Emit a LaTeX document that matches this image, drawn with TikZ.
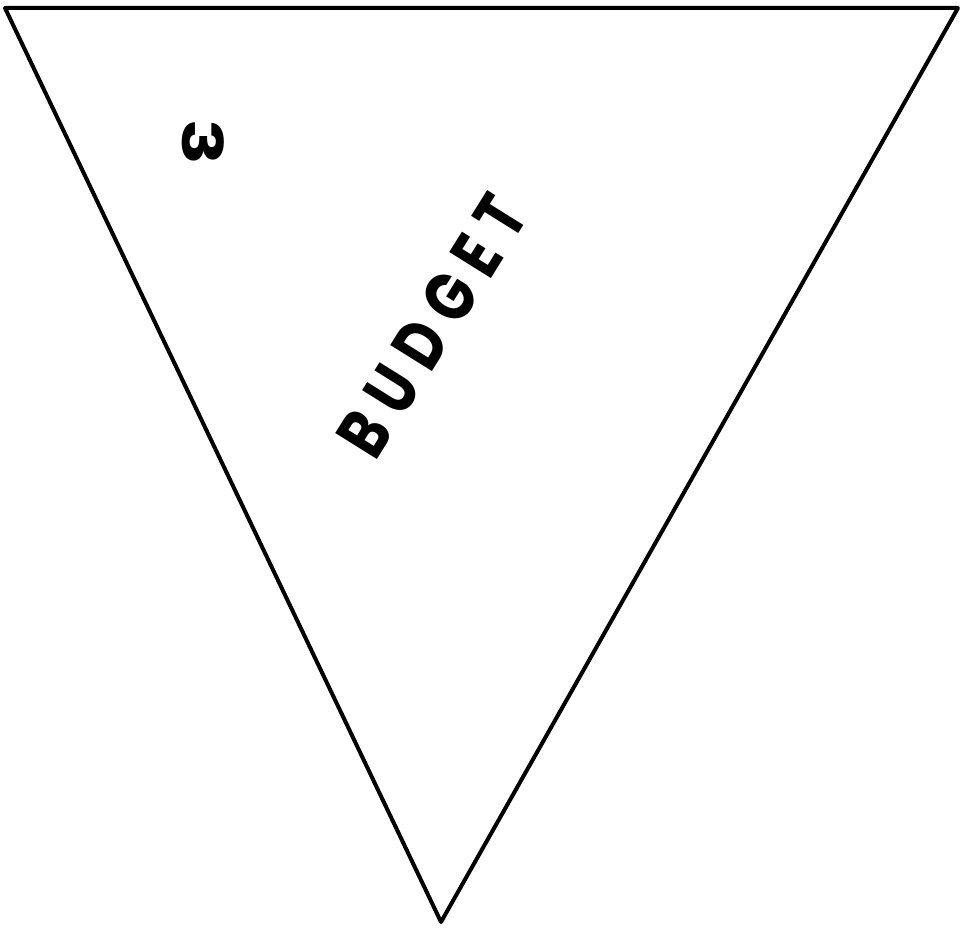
\documentclass[tikz,border=0pt]{standalone}
\usepackage{fontspec}
\setmainfont{Poppins}
\begin{document}
\begin{tikzpicture}[x=1pt,y=-1pt,
  edge/.style={line width=4pt,line join=round,line cap=round},
  label/.style={inner sep=0pt}]
\useasboundingbox (0,0) rectangle (962,931);
\coordinate (tl) at (5,8);
\coordinate (tr) at (958,8);
\coordinate (bt) at (441,922);
\draw[edge] (tl) -- (tr) -- (bt) -- cycle;
\node[label,rotate=-90,xscale=1.35,font=\fontsize{56}{56}\bfseries\selectfont] (three) at (203,142) {3};
\node[label,rotate=58,xscale=0.8,font=\fontsize{70}{70}\bfseries\selectfont\addfontfeature{LetterSpace=24}] (budget) at (432,326) {BUDGET};
\end{tikzpicture}
\end{document}
